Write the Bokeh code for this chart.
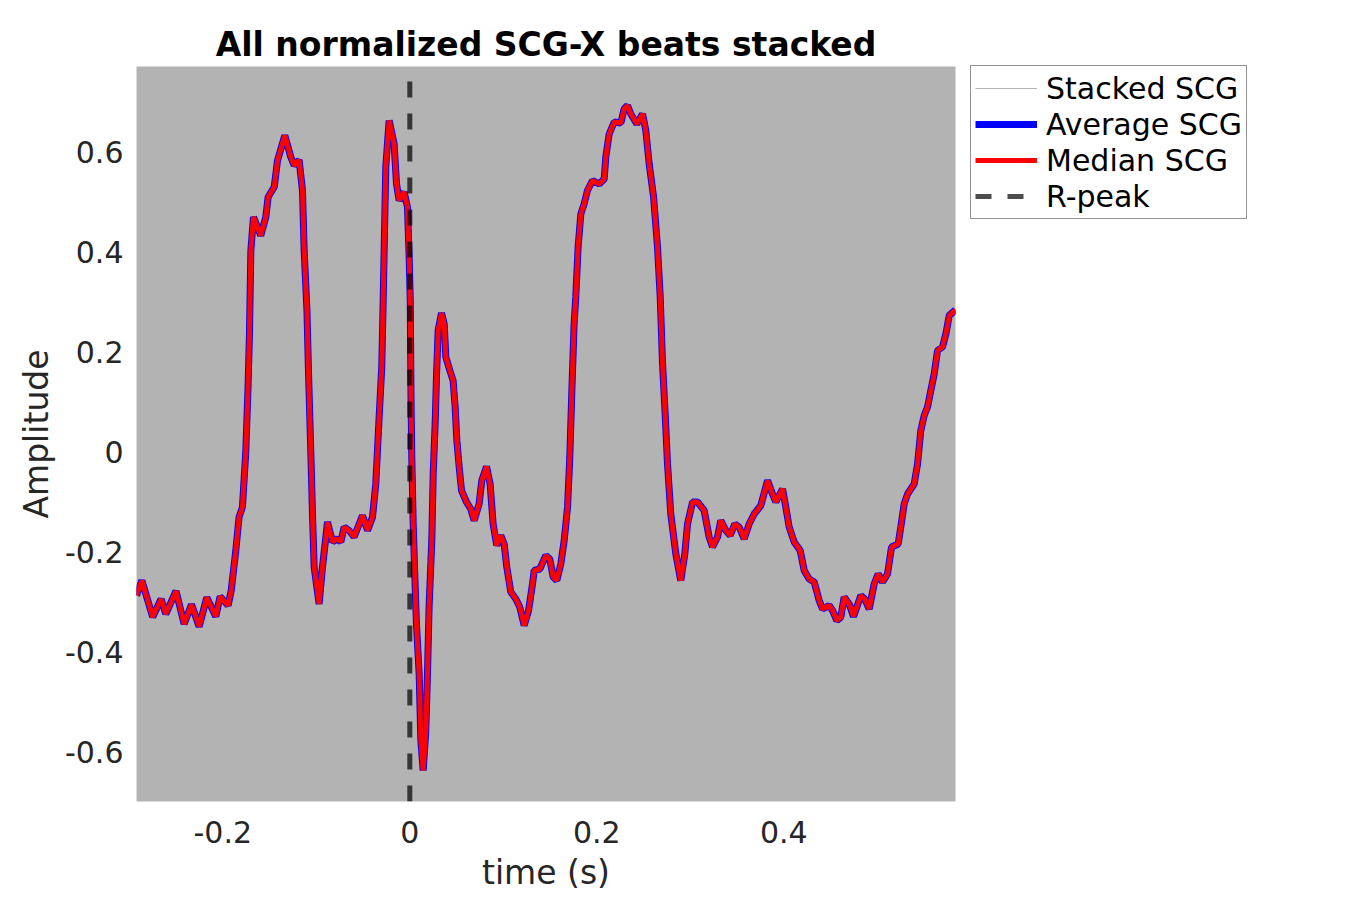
from bokeh.plotting import figure
from bokeh.models import Range1d, Legend, LegendItem, FixedTicker
from bokeh.embed import file_html
from bokeh.resources import INLINE

# ---- data ----
time_s = [
    -0.2923, -0.2866, -0.275, -0.266, -0.261, -0.250, -0.2414, -0.2335, -0.2253, -0.2171,
    -0.2075, -0.2029, -0.1943, -0.191, -0.1861, -0.1826, -0.1790, -0.1754, -0.1729, -0.1715,
    -0.170, -0.1672, -0.1594, -0.154, -0.1515, -0.145, -0.1415, -0.1337, -0.1273, -0.1237,
    -0.1184, -0.1148, -0.1130, -0.110, -0.1085, -0.1059, -0.104, -0.1023, -0.097, -0.0934,
    -0.088, -0.0827, -0.078, -0.0738, -0.0702, -0.0649, -0.0596, -0.0506, -0.0452, -0.0399,
    -0.0364, -0.0328, -0.0300, -0.0285, -0.0257, -0.0221, -0.0168, -0.0142, -0.0114, -0.0061,
    -0.0025, -0.0007, 0.0005, 0.0012, 0.0021, 0.0036, 0.0053, 0.0071, 0.010, 0.0118,
    0.0143, 0.0171, 0.0189, 0.0206, 0.0235, 0.0250, 0.0271, 0.0286, 0.0303, 0.0339,
    0.0368, 0.0385, 0.0428, 0.0463, 0.0485, 0.0503, 0.0528, 0.0553, 0.0606, 0.0652,
    0.0688, 0.0741, 0.077, 0.082, 0.0859, 0.0891, 0.093, 0.0973, 0.1009, 0.1037,
    0.108, 0.1134, 0.1176, 0.1223, 0.127, 0.1312, 0.133, 0.139, 0.1455, 0.1497,
    0.1533, 0.1572, 0.1615, 0.1651, 0.1687, 0.1711, 0.1733, 0.1757, 0.1775, 0.18,
    0.1829, 0.1864, 0.19, 0.1954, 0.2025, 0.2079, 0.2096, 0.2132, 0.2186, 0.2257,
    0.2292, 0.2328, 0.2364, 0.2428, 0.2489, 0.2524, 0.256, 0.2607, 0.2649, 0.2678,
    0.2703, 0.2731, 0.2756, 0.2791, 0.2845, 0.2898, 0.2941, 0.297, 0.3024, 0.3077,
    0.3148, 0.3201, 0.3237, 0.3291, 0.3326, 0.338, 0.3426, 0.3476, 0.3522, 0.3576,
    0.3629, 0.3683, 0.3754, 0.3826, 0.3879, 0.3914, 0.3986, 0.4021, 0.4057, 0.4111,
    0.4175, 0.4218, 0.4271, 0.4325, 0.4378, 0.4414, 0.4485, 0.4521, 0.4567, 0.461,
    0.4645, 0.4699, 0.4745, 0.4824, 0.4866, 0.4913, 0.4966, 0.5009, 0.5056, 0.5109,
    0.5152, 0.5223, 0.5251, 0.5287, 0.5323, 0.5394, 0.5430, 0.5465, 0.5501, 0.5537,
    0.5572, 0.5608, 0.5644, 0.5697, 0.5733, 0.5769, 0.5836,
]
amplitude = [
    -0.288, -0.258, -0.331, -0.295, -0.325, -0.279, -0.345, -0.306, -0.350, -0.292,
    -0.330, -0.290, -0.308, -0.278, -0.198, -0.131, -0.111, 0.0, 0.136, 0.236,
    0.402, 0.469, 0.432, 0.469, 0.509, 0.529, 0.582, 0.632, 0.589, 0.572,
    0.583, 0.522, 0.402, 0.282, 0.169, 0.0, -0.131, -0.231, -0.305, -0.231,
    -0.141, -0.181, -0.174, -0.181, -0.151, -0.158, -0.171, -0.128, -0.158, -0.131,
    -0.065, 0.069, 0.169, 0.302, 0.569, 0.662, 0.615, 0.535, 0.502, 0.519,
    0.489, 0.389, 0.30, 0.122, -0.011, -0.145, -0.245, -0.345, -0.445, -0.578,
    -0.638, -0.558, -0.445, -0.311, -0.178, -0.045, 0.055, 0.155, 0.242, 0.277,
    0.255, 0.189, 0.162, 0.142, 0.089, 0.022, -0.031, -0.078, -0.101, -0.115,
    -0.138, -0.105, -0.058, -0.030, -0.065, -0.145, -0.188, -0.168, -0.185, -0.231,
    -0.281, -0.295, -0.311, -0.348, -0.318, -0.265, -0.238, -0.235, -0.208, -0.215,
    -0.251, -0.258, -0.225, -0.178, -0.111, -0.011, 0.122, 0.255, 0.309, 0.409,
    0.475, 0.495, 0.522, 0.542, 0.535, 0.545, 0.589, 0.635, 0.659, 0.657,
    0.685, 0.692, 0.675, 0.655, 0.675, 0.642, 0.575, 0.509, 0.409, 0.309,
    0.175, 0.075, -0.025, -0.125, -0.205, -0.258, -0.205, -0.145, -0.101, -0.101,
    -0.118, -0.171, -0.191, -0.171, -0.138, -0.158, -0.168, -0.145, -0.151, -0.175,
    -0.145, -0.125, -0.108, -0.058, -0.085, -0.101, -0.075, -0.111, -0.151, -0.181,
    -0.198, -0.238, -0.255, -0.261, -0.298, -0.315, -0.308, -0.318, -0.338, -0.331,
    -0.291, -0.305, -0.330, -0.288, -0.295, -0.315, -0.265, -0.245, -0.261, -0.245,
    -0.191, -0.185, -0.151, -0.105, -0.085, -0.065, -0.025, 0.042, 0.072, 0.089,
    0.122, 0.155, 0.202, 0.209, 0.235, 0.272, 0.283,
]
stacked_beats = [amplitude]          # only one beat is visible
average_scg = amplitude
median_scg = amplitude
rpeak_time = [0.0, 0.0]
rpeak_amp = [-0.70, 0.77]

x_limits = (-0.2923, 0.5836)
y_limits = (-0.70, 0.77)
x_ticks = [-0.2, 0.0, 0.2, 0.4]
x_tick_labels = ["-0.2", "0", "0.2", "0.4"]
y_ticks = [-0.6, -0.4, -0.2, 0.0, 0.2, 0.4, 0.6]
y_tick_labels = ["-0.6", "-0.4", "-0.2", "0", "0.2", "0.4", "0.6"]

FONT = "DejaVu Sans"
TICK_FS = "30px"
LABEL_FS = "33px"
TITLE_FS = "33px"
LEGEND_FS = "30px"

p = figure(frame_width=819, frame_height=735,
           x_range=Range1d(*x_limits), y_range=Range1d(*y_limits),
           output_backend="svg", toolbar_location=None,
           min_border_left=136, min_border_top=66,
           min_border_right=20, min_border_bottom=96,
           title="All normalized SCG-X beats stacked",
           x_axis_label="time (s)", y_axis_label="Amplitude")

p.background_fill_color = "#b3b3b3"
p.border_fill_color = "white"
p.outline_line_color = None
p.grid.visible = False

p.title.text_font = FONT
p.title.text_font_size = TITLE_FS
p.title.text_font_style = "bold"
p.title.text_color = "black"
p.title.align = "center"
p.title.standoff = 6

for ax in (p.xaxis[0], p.yaxis[0]):
    ax.axis_line_color = None
    ax.major_tick_line_color = None
    ax.minor_tick_line_color = None
    ax.major_tick_out = 0
    ax.major_tick_in = 0
    ax.minor_tick_out = 0
    ax.major_label_text_font = FONT
    ax.major_label_text_font_size = TICK_FS
    ax.major_label_text_color = "#262626"
    ax.axis_label_text_font = FONT
    ax.axis_label_text_font_size = LABEL_FS
    ax.axis_label_text_font_style = "normal"
    ax.axis_label_text_color = "#262626"

p.xaxis[0].ticker = FixedTicker(ticks=x_ticks)
p.xaxis[0].major_label_overrides = dict(zip(x_ticks, x_tick_labels))
p.yaxis[0].ticker = FixedTicker(ticks=y_ticks)
p.yaxis[0].major_label_overrides = dict(zip(y_ticks, y_tick_labels))
p.xaxis[0].major_label_standoff = 19
p.yaxis[0].major_label_standoff = 13
p.xaxis[0].axis_label_standoff = 7
p.yaxis[0].axis_label_standoff = 6

stacked_renderers = []
for beat in stacked_beats:
    stacked_renderers.append(p.line(time_s, beat, line_color="#b3b3b3", line_width=1))
r_avg = p.line(time_s, average_scg, line_color="#0000ff", line_width=7)
r_med = p.line(time_s, median_scg, line_color="#ff0000", line_width=5)
r_peak = p.line(rpeak_time, rpeak_amp, line_color="black", line_alpha=0.7,
                line_width=5, line_dash="16 16")

legend = Legend(items=[
    LegendItem(label="Stacked SCG", renderers=[stacked_renderers[0]]),
    LegendItem(label="Average SCG", renderers=[r_avg]),
    LegendItem(label="Median SCG", renderers=[r_med]),
    LegendItem(label="R-peak", renderers=[r_peak]),
], location=(15, 582))
legend.margin = 0
legend.padding = 4
legend.spacing = 0
legend.glyph_width = 62
legend.glyph_height = 36
legend.label_height = 36
legend.label_standoff = 9
legend.label_text_font = FONT
legend.label_text_font_size = LEGEND_FS
legend.label_text_color = "black"
legend.border_line_color = "#262626"
legend.border_line_width = 1
legend.background_fill_color = "white"
legend.background_fill_alpha = 1.0
p.add_layout(legend, "right")

open("out.html", "w").write(file_html(p, INLINE))
